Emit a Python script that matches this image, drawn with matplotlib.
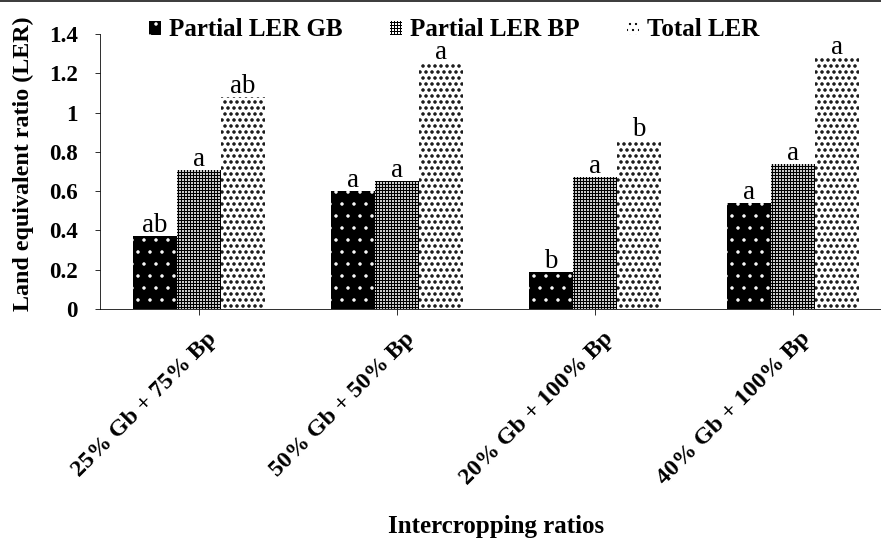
import matplotlib.pyplot as plt
import numpy as np
from matplotlib.lines import Line2D
from matplotlib.transforms import ScaledTranslation

# Times-like serif everywhere
plt.rcParams['font.family'] = ['Liberation Serif', 'DejaVu Serif']

# Data
ratios = ['25% Gb + 75% Bp', '50% Gb + 50% Bp', '20% Gb + 100% Bp', '40% Gb + 100% Bp']
ler_gb = [0.37, 0.60, 0.19, 0.54]
ler_bp = [0.71, 0.65, 0.67, 0.74]
ler_total = [1.08, 1.25, 0.86, 1.28]
letters_gb = ['ab', 'a', 'b', 'a']
letters_bp = ['a', 'a', 'a', 'a']
letters_total = ['ab', 'a', 'b', 'a']
y_ticks = [0, 0.2, 0.4, 0.6, 0.8, 1.0, 1.2, 1.4]
y_tick_labels = ['0', '0.2', '0.4', '0.6', '0.8', '1', '1.2', '1.4']

# 72 dpi so that 1 pt = 1 px (also sets hatch tile to 72 px)
fig = plt.figure(figsize=(881 / 72, 540 / 72), dpi=72)
ax = fig.add_axes([100 / 881, 1 - 309 / 540, 792 / 881, 275 / 540])

x = np.arange(len(ratios))
width = 0.222

# (offset, values, face, hatch colour, hatch, hatch linewidth, label)
styles = [
    (-width, ler_gb, 'black', 'white', '.', 1.0, 'Partial LER GB'),
    (0, ler_bp, 'white', 'black', '++++', 1.2, 'Partial LER BP'),
    (width, ler_total, 'white', 'black', '..', 2.2, 'Total LER'),
]


def set_hlw(patch, hlw):
    if hasattr(patch, 'set_hatch_linewidth'):
        patch.set_hatch_linewidth(hlw)


for offs, vals, face, edge, hatch, hlw, label in styles:
    plt.rcParams['hatch.linewidth'] = hlw
    bars = ax.bar(x + offs, vals, width, color=face, edgecolor=edge, hatch=hatch, linewidth=0, label=label)
    for b in bars:
        set_hlw(b, hlw)

# significance letters above the bars
for offs, vals, letters in [(-width, ler_gb, letters_gb), (0, ler_bp, letters_bp), (width, ler_total, letters_total)]:
    for xi, v, t in zip(x, vals, letters):
        ax.annotate(t, (xi + offs, v), xytext=(0, 4), textcoords='offset points',
                    ha='center', va='baseline', fontsize=27)

ax.set_xlim(-0.5, 3.5)
ax.set_ylim(0, 1.4)
ax.set_yticks(y_ticks)
ax.set_yticklabels(y_tick_labels, fontsize=23, fontweight='bold')
ax.set_xticks(x)
ax.set_xticklabels(ratios, rotation=45, ha='right', rotation_mode='anchor', fontsize=24, fontweight='bold')
ax.tick_params(axis='y', direction='out', length=5, pad=17)
ax.tick_params(axis='x', direction='out', length=6, pad=13)
# nudge the rotated labels a bit to the right
for lab in ax.get_xticklabels():
    lab.set_transform(lab.get_transform() + ScaledTranslation(7 / 72, 0, fig.dpi_scale_trans))

for s in ['top', 'right']:
    ax.spines[s].set_visible(False)

ax.set_ylabel('Land equivalent ratio (LER)', fontsize=24, fontweight='bold', va='center')
ax.yaxis.set_label_coords(-0.097, 0.527)
ax.set_xlabel('Intercropping ratios', fontsize=25, fontweight='bold', va='baseline')
ax.xaxis.set_label_coords(0.5, -0.815)

plt.rcParams['hatch.linewidth'] = 1.0
leg = ax.legend(loc='center', bbox_to_anchor=(454 / 881, 1 - 30 / 540), bbox_transform=fig.transFigure,
                ncol=3, frameon=False, prop={'weight': 'bold', 'size': 25},
                handlelength=0.5, handleheight=0.5, handletextpad=0.3, columnspacing=1.9,
                borderpad=0, borderaxespad=0)
for h, st in zip(leg.legend_handles, styles):
    set_hlw(h, min(st[5], 1.0))

# border line along the top edge
fig.add_artist(Line2D([0, 1], [1 - 1 / 540, 1 - 1 / 540], transform=fig.transFigure, color='black', linewidth=1.5))

plt.savefig('out.png', dpi=72)
